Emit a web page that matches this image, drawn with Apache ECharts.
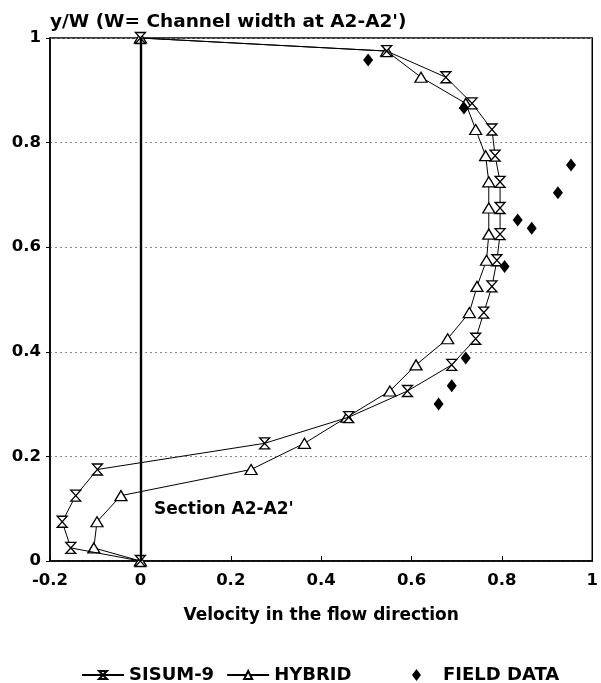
<!DOCTYPE html>
<html><head><meta charset="utf-8">
<script src="https://cdn.jsdelivr.net/npm/echarts@6/dist/echarts.min.js"></script>
<style>html,body{margin:0;padding:0;background:#fff}#c{width:601px;height:683px}</style>
</head><body><div id="c"></div>
<script>
// y/W positions and velocities
const sisumY = [1.0, 0.975, 0.925, 0.875, 0.825, 0.775, 0.725, 0.675, 0.625, 0.575, 0.525, 0.475, 0.425, 0.375, 0.325, 0.275, 0.225, 0.175, 0.125, 0.075, 0.025, 0.0];
const sisumX = [0.0, 0.545, 0.676, 0.734, 0.778, 0.785, 0.796, 0.796, 0.796, 0.789, 0.778, 0.760, 0.742, 0.689, 0.591, 0.461, 0.275, -0.095, -0.143, -0.173, -0.154, 0.0];
const hybridY = [1.0, 0.975, 0.925, 0.875, 0.825, 0.775, 0.725, 0.675, 0.625, 0.575, 0.525, 0.475, 0.425, 0.375, 0.325, 0.275, 0.225, 0.175, 0.125, 0.075, 0.025, 0.0];
const hybridX = [0.0, 0.545, 0.621, 0.720, 0.742, 0.764, 0.771, 0.771, 0.771, 0.766, 0.745, 0.728, 0.680, 0.610, 0.552, 0.457, 0.363, 0.245, -0.043, -0.096, -0.103, 0.0];
const fieldX = [0.504, 0.716, 0.953, 0.924, 0.835, 0.866, 0.806, 0.720, 0.689, 0.660];
const fieldY = [0.958, 0.866, 0.757, 0.704, 0.652, 0.636, 0.563, 0.388, 0.335, 0.300];
const xTicks = [-0.2, 0, 0.2, 0.4, 0.6, 0.8, 1];
const yTicks = [0, 0.2, 0.4, 0.6, 0.8, 1];

const FONT = 'DejaVu Sans';
const hourglass = 'path://M0,0 L10,0 L0,10 L10,10 Z';
const zip = (xs, ys) => xs.map((x, i) => [x, ys[i]]);
const fmt = v => String(v);

const chart = echarts.init(document.getElementById('c'));
chart.setOption({
  animation: false,
  title: {
    text: "y/W (W= Channel width at A2-A2')",
    left: 45, top: 8,
    textStyle: {fontFamily: FONT, fontWeight: 'bold', fontSize: 18.5, color: '#000'}
  },
  grid: {left: 50, right: 3, top: 38, bottom: 122, show: true, borderColor: '#000', borderWidth: 1.5, backgroundColor: 'transparent'},
  xAxis: {
    type: 'value', min: -0.2, max: 1, interval: 0.2,
    name: 'Velocity in the flow direction', nameLocation: 'middle', nameGap: 46,
    nameTextStyle: {fontFamily: FONT, fontWeight: 'bold', fontSize: 17, color: '#000'},
    axisLine: {onZero: false, lineStyle: {color: '#000', width: 1.5}},
    axisTick: {inside: true, length: 5, lineStyle: {color: '#000'}},
    splitLine: {show: false},
    axisLabel: {fontFamily: FONT, fontWeight: 'bold', fontSize: 16.5, color: '#000', margin: 11,
      formatter: v => { const r = Math.round(v * 10) / 10; return xTicks.includes(r) ? fmt(r) : ''; }}
  },
  yAxis: {
    type: 'value', min: 0, max: 1, interval: 0.2,
    axisLine: {onZero: false, lineStyle: {color: '#000', width: 1.5}},
    axisTick: {inside: false, length: 4, lineStyle: {color: '#000'}},
    splitLine: {show: true, lineStyle: {type: [2, 3], color: '#888', width: 1}},
    axisLabel: {fontFamily: FONT, fontWeight: 'bold', fontSize: 16.5, color: '#000', margin: 9,
      formatter: v => { const r = Math.round(v * 10) / 10; return yTicks.includes(r) ? fmt(r) : ''; }}
  },
  legend: [
    {
      data: ['SISUM-9', 'HYBRID'], left: 76, top: 661, itemWidth: 42, itemHeight: 10, itemGap: 12,
      textStyle: {fontFamily: FONT, fontWeight: 'bold', fontSize: 18, color: '#000'}
    },
    {
      data: [{name: 'FIELD DATA', icon: 'diamond'}], left: 407, top: 661, itemWidth: 9, itemHeight: 12, itemGap: 8,
      textStyle: {fontFamily: FONT, fontWeight: 'bold', fontSize: 18, color: '#000', padding: [0, 0, 0, 17]}
    }
  ],
  graphic: [{
    type: 'text', left: 154, top: 501,
    style: {text: "Section A2-A2'", font: 'bold 17px "DejaVu Sans"', fill: '#000'}
  }],
  series: [
    {
      name: 'SISUM-9', type: 'line', data: zip(sisumX, sisumY),
      symbol: hourglass, symbolSize: [10, 11],
      lineStyle: {color: '#000', width: 1},
      itemStyle: {color: '#fff', borderColor: '#000', borderWidth: 1.3},
      z: 3,
      markLine: {
        silent: true, symbol: ['none', 'none'], label: {show: false},
        lineStyle: {color: '#000', width: 2.4, type: 'solid'},
        data: [[{coord: [0, 0]}, {coord: [0, 1]}]]
      }
    },
    {
      name: 'HYBRID', type: 'line', data: zip(hybridX, hybridY),
      symbol: 'triangle', symbolSize: [12, 10],
      lineStyle: {color: '#000', width: 1},
      itemStyle: {color: '#fff', borderColor: '#000', borderWidth: 1.3},
      z: 2
    },
    {
      name: 'FIELD DATA', type: 'scatter', data: zip(fieldX, fieldY),
      symbol: 'diamond', symbolSize: [10, 13],
      itemStyle: {color: '#000', opacity: 1}, z: 4
    }
  ]
});
</script>
</body></html>
